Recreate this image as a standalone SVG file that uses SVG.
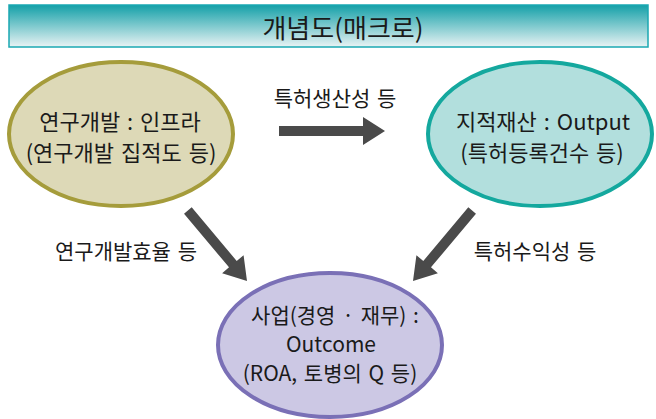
<svg xmlns="http://www.w3.org/2000/svg" width="656" height="419" viewBox="0 0 656 419">
<defs>
<linearGradient id="tg" x1="0" y1="0" x2="0" y2="1">
<stop offset="0" stop-color="#14a0a8"/>
<stop offset="1" stop-color="#e9f3f4"/>
</linearGradient>
<style>
text{font-family:"Noto Sans CJK KR","Noto Sans",sans-serif;fill:#1a1a1a;text-anchor:middle;dominant-baseline:central}
.t{font-size:22px;word-spacing:2px}
.b{font-size:21px;word-spacing:2px}
.lbl{font-size:21px;word-spacing:2px}
.arr{fill:#4a4a4a}
</style>
</defs>
<rect width="656" height="419" fill="#ffffff"/>
<g id="title">
<rect x="9" y="5" width="639" height="42" fill="url(#tg)" stroke="#1aa8b2" stroke-width="1.5"/>
<text x="343" y="26" style="font-size:26px">개념도(매크로)</text>
</g>
<g id="connectors">
<polygon class="arr" points="279,126 363,126 363,117 385,131 363,145 363,136 279,136"/>
<polygon class="arr" transform="translate(247,281) rotate(50)" points="-92,-5 -22,-5 -22,-14 0,0 -22,14 -22,5 -92,5"/>
<polygon class="arr" transform="translate(413,281) rotate(130)" points="-92,-5 -22,-5 -22,-14 0,0 -22,14 -22,5 -92,5"/>
<text class="lbl" x="335" y="97">특허생산성 등</text>
<text class="lbl" x="126" y="250">연구개발효율 등</text>
<text class="lbl" x="535" y="250">특허수익성 등</text>
</g>
<g id="rnd">
<ellipse cx="121" cy="134" rx="112" ry="72" fill="#ddd9b7" stroke="#a59c3b" stroke-width="4"/>
<text class="t" x="120" y="120">연구개발 : 인프라</text>
<text class="t" x="121" y="151">(연구개발 집적도 등)</text>
</g>
<g id="ip">
<ellipse cx="540" cy="134" rx="112" ry="72" fill="#b2dfdd" stroke="#14a89e" stroke-width="4"/>
<text class="t" x="543" y="120">지적재산 : Output</text>
<text class="t" x="542" y="151">(특허등록건수 등)</text>
</g>
<g id="biz">
<ellipse cx="330" cy="345" rx="112" ry="72" fill="#ccc8e4" stroke="#7a70b6" stroke-width="4"/>
<text class="b" x="335" y="314">사업(경영 · 재무) :</text>
<text class="b" x="331" y="343">Outcome</text>
<text class="b" x="330" y="372">(ROA, 토병의 Q 등)</text>
</g>
</svg>
